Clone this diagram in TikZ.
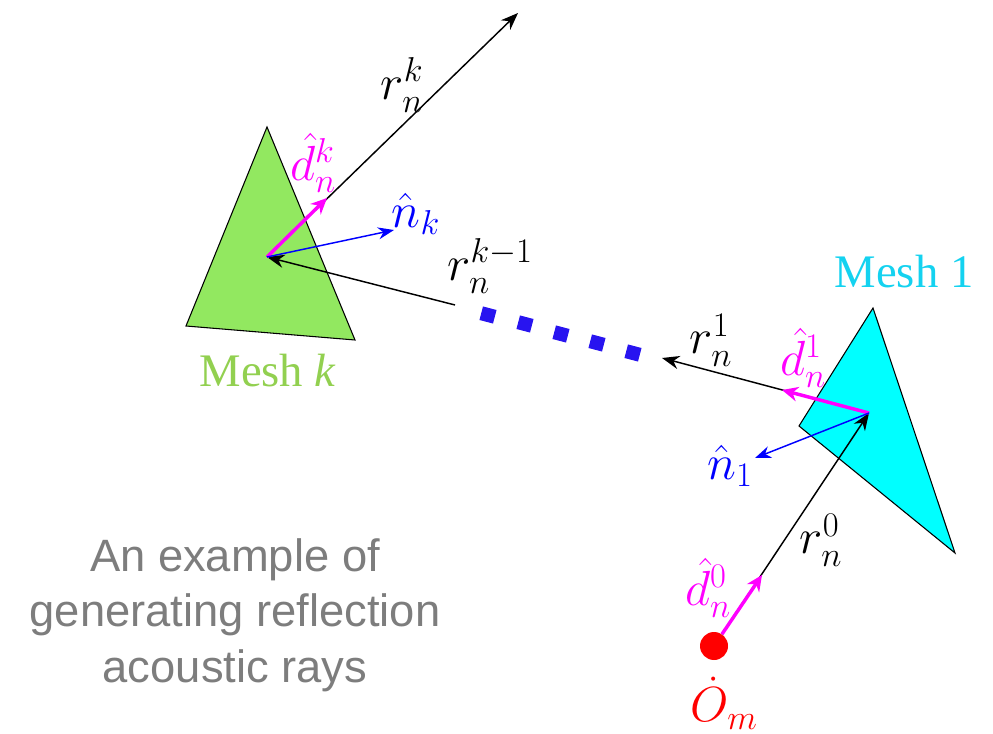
\RequirePackage{fix-cm}
\documentclass[tikz,border=0pt]{standalone}
\usepackage{fontspec}
\usetikzlibrary{arrows.meta}
\newfontfamily\arialf{Liberation Sans}
\newfontfamily\timesf{Liberation Serif}
\definecolor{meshgreen}{RGB}{146,232,96}
\definecolor{labgreen}{RGB}{146,208,80}
\definecolor{meshcyan}{RGB}{0,255,255}
\definecolor{labcyan}{RGB}{20,210,240}
\definecolor{gtext}{RGB}{125,125,125}
\definecolor{sqblue}{RGB}{40,20,240}
\definecolor{mag}{RGB}{255,0,255}
\tikzset{
  mlab/.style={font=\fontsize{37}{40}\selectfont, inner sep=0pt},
  ray/.style={black, line width=1.1pt, -{Stealth[length=13pt,width=10pt]}},
  dirv/.style={mag, line width=2.6pt, -{Stealth[length=12pt,width=11pt]}},
  normv/.style={blue, line width=1.1pt, -{Stealth[length=12pt,width=9pt]}},
  meshtri/.style={draw=black, line width=0.8pt},
  sq/.style={fill=sqblue, draw=none, minimum size=10.5pt, inner sep=0pt, rotate=-14.7},
  meshlab/.style={font=\timesf\fontsize{35}{40}\selectfont, inner sep=0pt}
}
\begin{document}
\begin{tikzpicture}[x=0.75pt,y=-0.75pt]
\useasboundingbox (0,0) rectangle (993,734);
% points
\coordinate (Hk) at (267,257);
\coordinate (H1) at (869,413);
\coordinate (Out) at (518,13);
\coordinate (Dk) at (327,198);
\coordinate (Nk) at (394,230);
\coordinate (Rk1s) at (455,305);
\coordinate (R1e) at (662,358);
\coordinate (D1) at (782,390);
\coordinate (N1) at (755,458);
\coordinate (D0) at (762,575);
% meshes
\fill[meshgreen] (267,127) -- (186,326) -- (355,340) -- cycle;
\draw[meshtri] (267,127) -- (186,326) -- (355,340) -- cycle;
\fill[meshcyan] (873,308) -- (799,426) -- (955,553) -- cycle;
\draw[meshtri] (873,308) -- (799,426) -- (955,553) -- cycle;
% source
\node[circle, fill=red, minimum size=21pt, inner sep=0pt] (src) at (714,646) {};
% rays
\draw[ray] (Hk) -- (Out);
\draw[ray] (Rk1s) -- (Hk);
\draw[ray] (H1) -- (R1e);
\draw[ray] (src) -- (H1);
% dotted squares
\foreach \i/\x/\y in {1/488/315,2/525/324,3/561/334,4/597/343,5/633/353}
  \node[sq] (s\i) at (\x,\y) {};
% direction vectors
\draw[dirv] (Hk) -- (Dk);
\draw[dirv] (H1) -- (D1);
\draw[dirv] (src) -- (D0);
% normals
\draw[normv] (Hk) -- (Nk);
\draw[normv] (H1) -- (N1);
% labels
\node[mlab] (lrk) at (402,85) {$r_n^k$};
\node[mlab, text=mag] (ldk) at (313,163) {$\hat{d}_n^k$};
\node[mlab, text=blue] (lnk) at (416,214) {$\hat{n}_k$};
\node[mlab] (lrk1) at (490,266) {$r_n^{k-1}$};
\node[mlab] (lr1) at (711,340) {$r_n^1$};
\node[mlab, text=mag] (ld1) at (803,358) {$\hat{d}_n^1$};
\node[mlab, text=blue] (ln1) at (730,466) {$\hat{n}_1$};
\node[mlab] (lr0) at (821,540) {$r_n^0$};
\node[mlab, text=mag] (ld0) at (708,588) {$\hat{d}_n^0$};
\node[mlab, text=red] (lom) at (724,703) {$\dot{O}_m$};
\node[meshlab, text=labcyan] (m1) at (904,272) {Mesh 1};
\node[meshlab, text=labgreen] (mk) at (268,371) {Mesh \textit{k}};
\node[align=center, font=\arialf\fontsize{34}{41.6}\selectfont, text=gtext, inner sep=0pt] (cap) at (235,615) {An example of\\generating reflection\\acoustic rays};
\end{tikzpicture}
\end{document}
